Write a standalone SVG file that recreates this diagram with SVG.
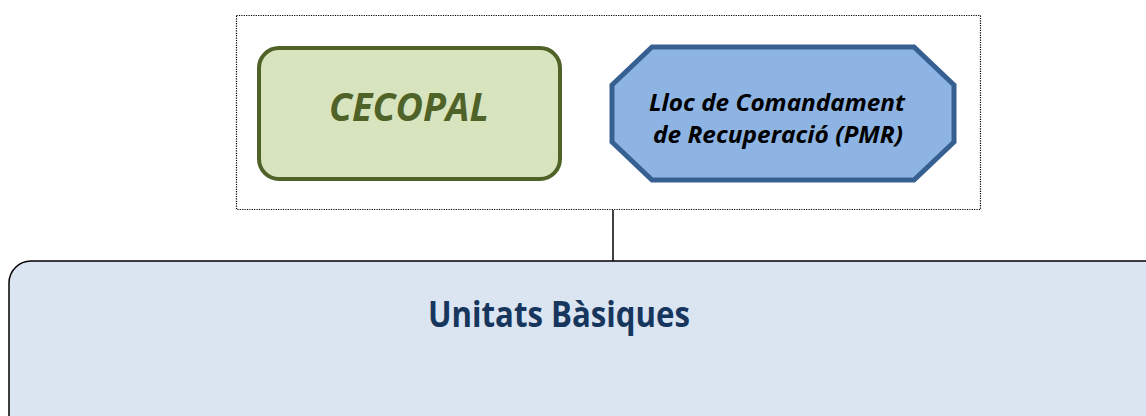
<svg xmlns="http://www.w3.org/2000/svg" width="1146" height="416" viewBox="0 0 1146 416">
<style>
.t{font-family:"Open Sans","Noto Sans","Liberation Sans",sans-serif;font-weight:bold;text-anchor:middle}
.pmr{font-size:23px;font-style:italic;fill:#000000}
</style>
<rect width="1146" height="416" fill="#ffffff"/>
<g id="connectors">
<line x1="613" y1="210" x2="613" y2="261" stroke="#000" stroke-width="1.5"/>
</g>
<g id="group-frame">
<rect x="236.5" y="15.5" width="744" height="194" fill="none" stroke="#000" stroke-width="1.2" stroke-dasharray="1.2,1.2"/>
</g>
<g id="cecopal">
<rect x="259" y="48" width="301" height="131" rx="20" ry="20" fill="#D7E4BD" stroke="#4F6228" stroke-width="4"/>
<text class="t" x="409" y="121" font-size="39" font-style="italic" fill="#4F6228" textLength="160" lengthAdjust="spacingAndGlyphs">CECOPAL</text>
</g>
<g id="pmr">
<polygon points="652,47 914,47 954,85 954,142 914,180 652,180 612,142 612,85" fill="#8EB4E3" stroke="#376092" stroke-width="5" stroke-linejoin="miter"/>
<text class="t pmr" x="777" y="110.5" textLength="256" lengthAdjust="spacingAndGlyphs">Lloc de Comandament</text>
<text class="t pmr" x="778" y="143" textLength="250" lengthAdjust="spacingAndGlyphs">de Recuperació (PMR)</text>
</g>
<g id="unitats">
<rect x="9" y="261" width="1160" height="180" rx="22" ry="22" fill="#DBE5F1" stroke="#000" stroke-width="1.5"/>
<text class="t" x="559" y="327" font-size="36" fill="#17365D" textLength="262" lengthAdjust="spacingAndGlyphs">Unitats Bàsiques</text>
</g>
</svg>
